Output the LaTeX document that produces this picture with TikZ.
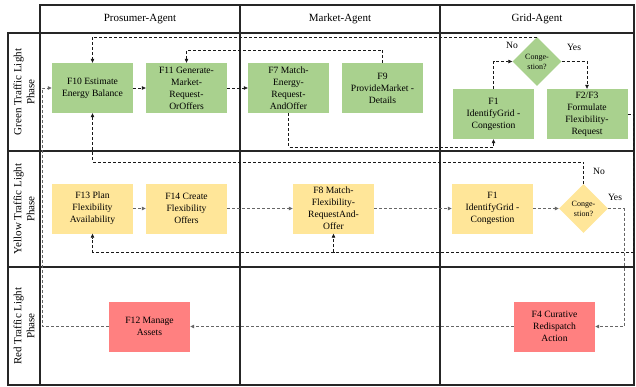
\documentclass[tikz,border=0pt]{standalone}
\usepackage{fontspec}
\setmainfont{Liberation Serif}
\usetikzlibrary{arrows.meta,shapes.geometric}

\definecolor{boxgreen}{RGB}{169,209,142}
\definecolor{boxyellow}{RGB}{255,230,153}
\definecolor{boxred}{RGB}{255,128,128}

\begin{document}
\begin{tikzpicture}[x=1pt,y=-1pt,
  box/.style={minimum width=81pt,minimum height=50pt,inner sep=1pt,align=center,font=\fontsize{9.6}{12}\selectfont},
  grn/.style={box,fill=boxgreen},
  ylw/.style={box,fill=boxyellow},
  rd/.style={box,fill=boxred},
  dec/.style={diamond,aspect=1,minimum width=49pt,minimum height=49pt,inner sep=0pt,align=center,font=\fontsize{8}{10}\selectfont},
  flow/.style={draw=black!90,dash pattern=on 3pt off 2pt,line width=0.6pt,-{Triangle[length=4pt,width=3.5pt]}},
  flowg/.style={flow,draw=black!60,line width=0.8pt},
  lane/.style={draw=black!85,line width=1.6pt},
  lbl/.style={font=\fontsize{9.6}{12}\selectfont},
  head/.style={font=\fontsize{11}{13}\selectfont,align=center}]

\useasboundingbox (0,0) rectangle (636,386);

% swimlanes
\draw[lane] (40,5) rectangle (634,33);
\draw[lane] (8,33) rectangle (634,385);
\foreach \x in {40,240,440} \draw[lane] (\x,33) -- (\x,385);
\foreach \x in {240,440} \draw[lane] (\x,5) -- (\x,33);
\foreach \y in {151,267} \draw[lane] (8,\y) -- (634,\y);

\node[head] (hpro) at (140,19) {Prosumer-Agent};
\node[head] (hmar) at (340,19) {Market-Agent};
\node[head] (hgrd) at (537,19) {Grid-Agent};

\node[head,rotate=90] (pgreen) at (24,92) {Green Traffic Light\\Phase};
\node[head,rotate=90] (pyellow) at (24,209) {Yellow Traffic Light\\Phase};
\node[head,rotate=90] (pred) at (24,326) {Red Traffic Light\\Phase};

% green phase
\node[grn] (f10) at (92.5,88) {F10 Estimate\\Energy Balance};
\node[grn] (f11) at (186.5,88) {F11 Generate-\\Market-\\Request-\\OrOffers};
\node[grn] (f7) at (288.5,88) {F7 Match-\\Energy-\\Request-\\AndOffer};
\node[grn] (f9) at (382.5,88) {F9\\ProvideMarket -\\Details};
\node[dec,fill=boxgreen] (cg) at (537,61.5) {Conge-\\stion?};
\node[grn] (f1g) at (493.5,114) {F1\\IdentifyGrid -\\Congestion};
\node[grn] (f23) at (587,114) {F2/F3\\Formulate\\Flexibility-\\Request};

% yellow phase
\node[ylw] (f13) at (92.5,208.5) {F13 Plan\\Flexibility\\Availability};
\node[ylw] (f14) at (186.5,208.5) {F14 Create\\Flexibility\\Offers};
\node[ylw] (f8) at (333.5,208.5) {F8 Match-\\Flexibility-\\RequestAnd-\\Offer};
\node[ylw] (f1y) at (492.5,208.5) {F1\\IdentifyGrid -\\Congestion};
\node[dec,fill=boxyellow] (cy) at (583.5,208.5) {Conge-\\stion?};

% red phase
\node[rd] (f12) at (149.5,326.5) {F12 Manage\\Assets};
\node[rd] (f4) at (554.5,326.5) {F4 Curative\\Redispatch\\Action};

\draw[flow] (f10.east) -- (f11.west);
\draw[flow] (f11.east) -- (f7.west);
\draw[flow] (f9.north) -- ++(0,-13) -| (f11.north);
\draw[flow] (f7.south) -- ++(0,34) -| (f1g.south);
\draw[flow] (f1g.north) |- (cg.west);
\draw[flow] (cg.east) -| (f23.north);
\draw[flow] (cg.north) -| (f10.north);
\node[lbl] (nog) at (512,45) {No};
\node[lbl] (yesg) at (574,47) {Yes};

\draw[flow,-] (f23.east) -| ++(6,138) coordinate (br);
\draw[flow] (br) -| (f13.south);
\draw[flow] (br) -| (f8.south);

\draw[flowg] (f13.east) -- (f14.west);
\draw[flowg] (f14.east) -- (f8.west);
\draw[flowg] (f8.east) -- (f1y.west);
\draw[flowg] (f1y.east) -- (cy.west);
\draw[flow] (cy.north) -- ++(0,-22) -| (f10.south);
\draw[flowg] (cy.east) -- ++(16,0) |- (f4.east);
\node[lbl] (noy) at (599,171) {No};
\node[lbl] (yesy) at (615,197) {Yes};

\draw[flowg] (f4.west) -- (f12.east);
\draw[flowg,line width=1pt] (f12.west) -- ++(-66.5,0) |- (f10.west);

\end{tikzpicture}
\end{document}
